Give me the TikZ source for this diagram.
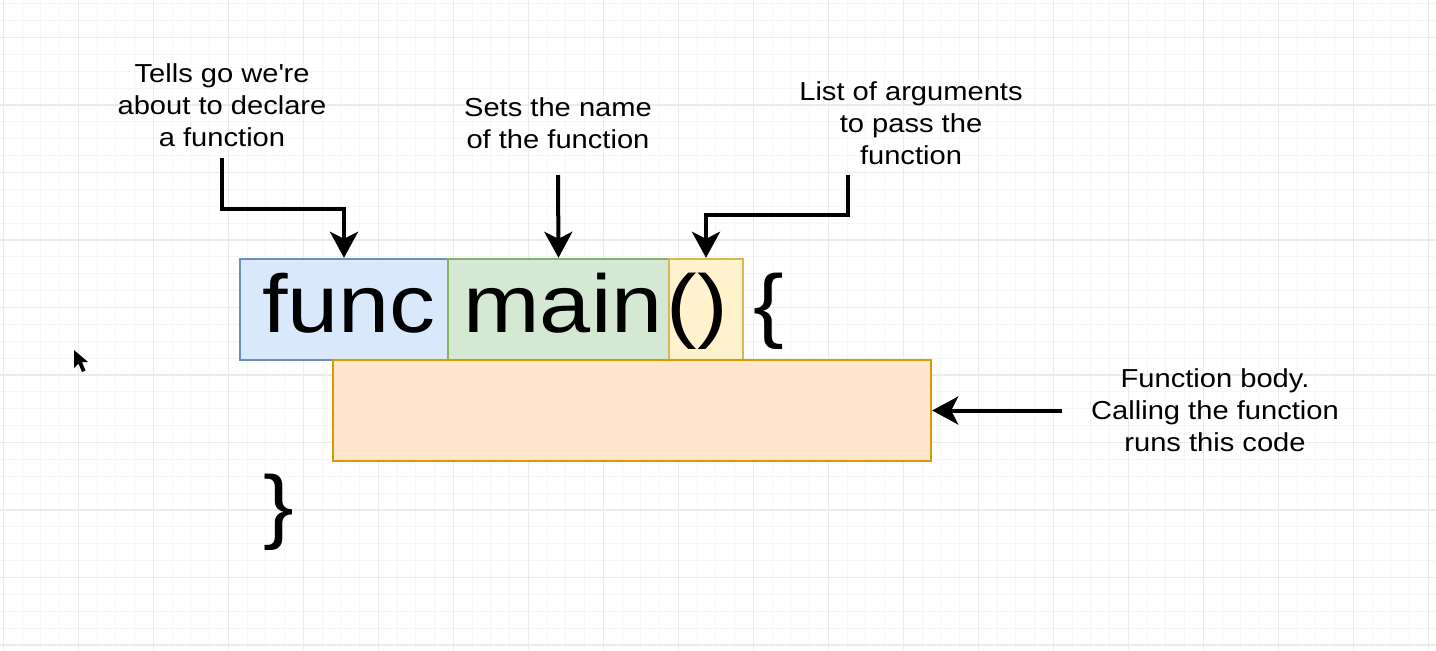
\documentclass[tikz,border=0pt]{standalone}
\usepackage{fontspec}
\setmainfont{Liberation Sans}[FakeStretch=1.12]
\usetikzlibrary{arrows.meta}
\definecolor{bluefill}{HTML}{DAE8FC}
\definecolor{bluedraw}{HTML}{6C8EBF}
\definecolor{greenfill}{HTML}{D5E8D4}
\definecolor{greendraw}{HTML}{82B366}
\definecolor{yellowfill}{HTML}{FFF2CC}
\definecolor{yellowdraw}{HTML}{D6B656}
\definecolor{orangefill}{HTML}{FFE6CC}
\definecolor{orangedraw}{HTML}{D79B00}
\definecolor{minorcol}{HTML}{F6F6F6}
\definecolor{majorcol}{HTML}{EBEBEB}
\begin{document}
\begin{tikzpicture}[x=0.5pt,y=-0.5pt,
  minorgrid/.style={draw=minorcol, line width=0.5pt},
  majorgrid/.style={draw=majorcol, line width=0.6pt},
  codebox/.style={draw, line width=1.2pt, minimum height=50.5pt, inner sep=0pt, anchor=center},
  codetext/.style={font=\fontsize{41}{41}\selectfont, inner sep=0pt, anchor=base},
  note/.style={font=\fontsize{13}{16}\selectfont, align=center, inner sep=0pt, anchor=north},
  arr/.style={line width=2pt, -{Stealth[length=13pt,width=14pt,inset=3.5pt]}}]
\useasboundingbox (0,0) rectangle (1436,650);
\fill[white] (0,0) rectangle (1436,650);
% grid
\foreach \i in {0,...,76} \draw[minorgrid] ({3.3+18.75*\i},0) -- ({3.3+18.75*\i},650);
\foreach \j in {0,...,38} \draw[minorgrid] (0,{3.75+16.875*\j}) -- (1436,{3.75+16.875*\j});
\foreach \i in {0,...,19} \draw[majorgrid] ({3.3+75*\i},0) -- ({3.3+75*\i},650);
\foreach \j in {0,...,9} \draw[majorgrid] (0,{37.5+67.5*\j}) -- (1436,{37.5+67.5*\j});
% boxes
\node[codebox, fill=bluefill, draw=bluedraw, minimum width=104pt] (func) at (344,309.5) {};
\node[codebox, fill=greenfill, draw=greendraw, minimum width=110.5pt] (main) at (558.5,309.5) {};
\node[codebox, fill=yellowfill, draw=yellowdraw, minimum width=37pt] (paren) at (706,309.5) {};
\node[codebox, fill=orangefill, draw=orangedraw, minimum width=299pt] (body) at (632,410.5) {};
% code text
\node[codetext] (tfunc) at (349,332) {func};
\node[codetext] (tmain) at (563,332) {main};
\node[codetext] (tparen) at (697,332) {()};
\node[codetext] (topen) at (769,332) {\{};
\node[codetext] (tclose) at (279,533.5) {\}};
% labels
\node[note] (l1) at (222,63) {Tells go we\textquotesingle re\\about to declare\\a function};
\node[note] (l2) at (558,97) {Sets the name\\of the function};
\node[note] (l3) at (911,81) {List of arguments\\to pass the\\function};
\node[note] (l4) at (1215,368) {Function body.\\Calling the function\\runs this code};
% connector start points
\coordinate (s1) at (222,158);
\coordinate (s2) at (558,175);
\coordinate (s3) at (848,175);
\coordinate (s4) at (1062,410.5);
\draw[arr] (s1) -- (s1 |- 0,209) -| (func.north);
\draw[arr] (s2) -- (main.north);
\draw[arr] (s3) -- (s3 |- 0,215) -| (paren.north);
\draw[arr] (s4) -- (body.east);
% mouse cursor
\fill[black] (74,350) -- (74,368) -- (78.5,363.5) -- (82,372) -- (85.5,370.5) -- (82,362) -- (88,362) -- cycle;
\end{tikzpicture}
\end{document}
